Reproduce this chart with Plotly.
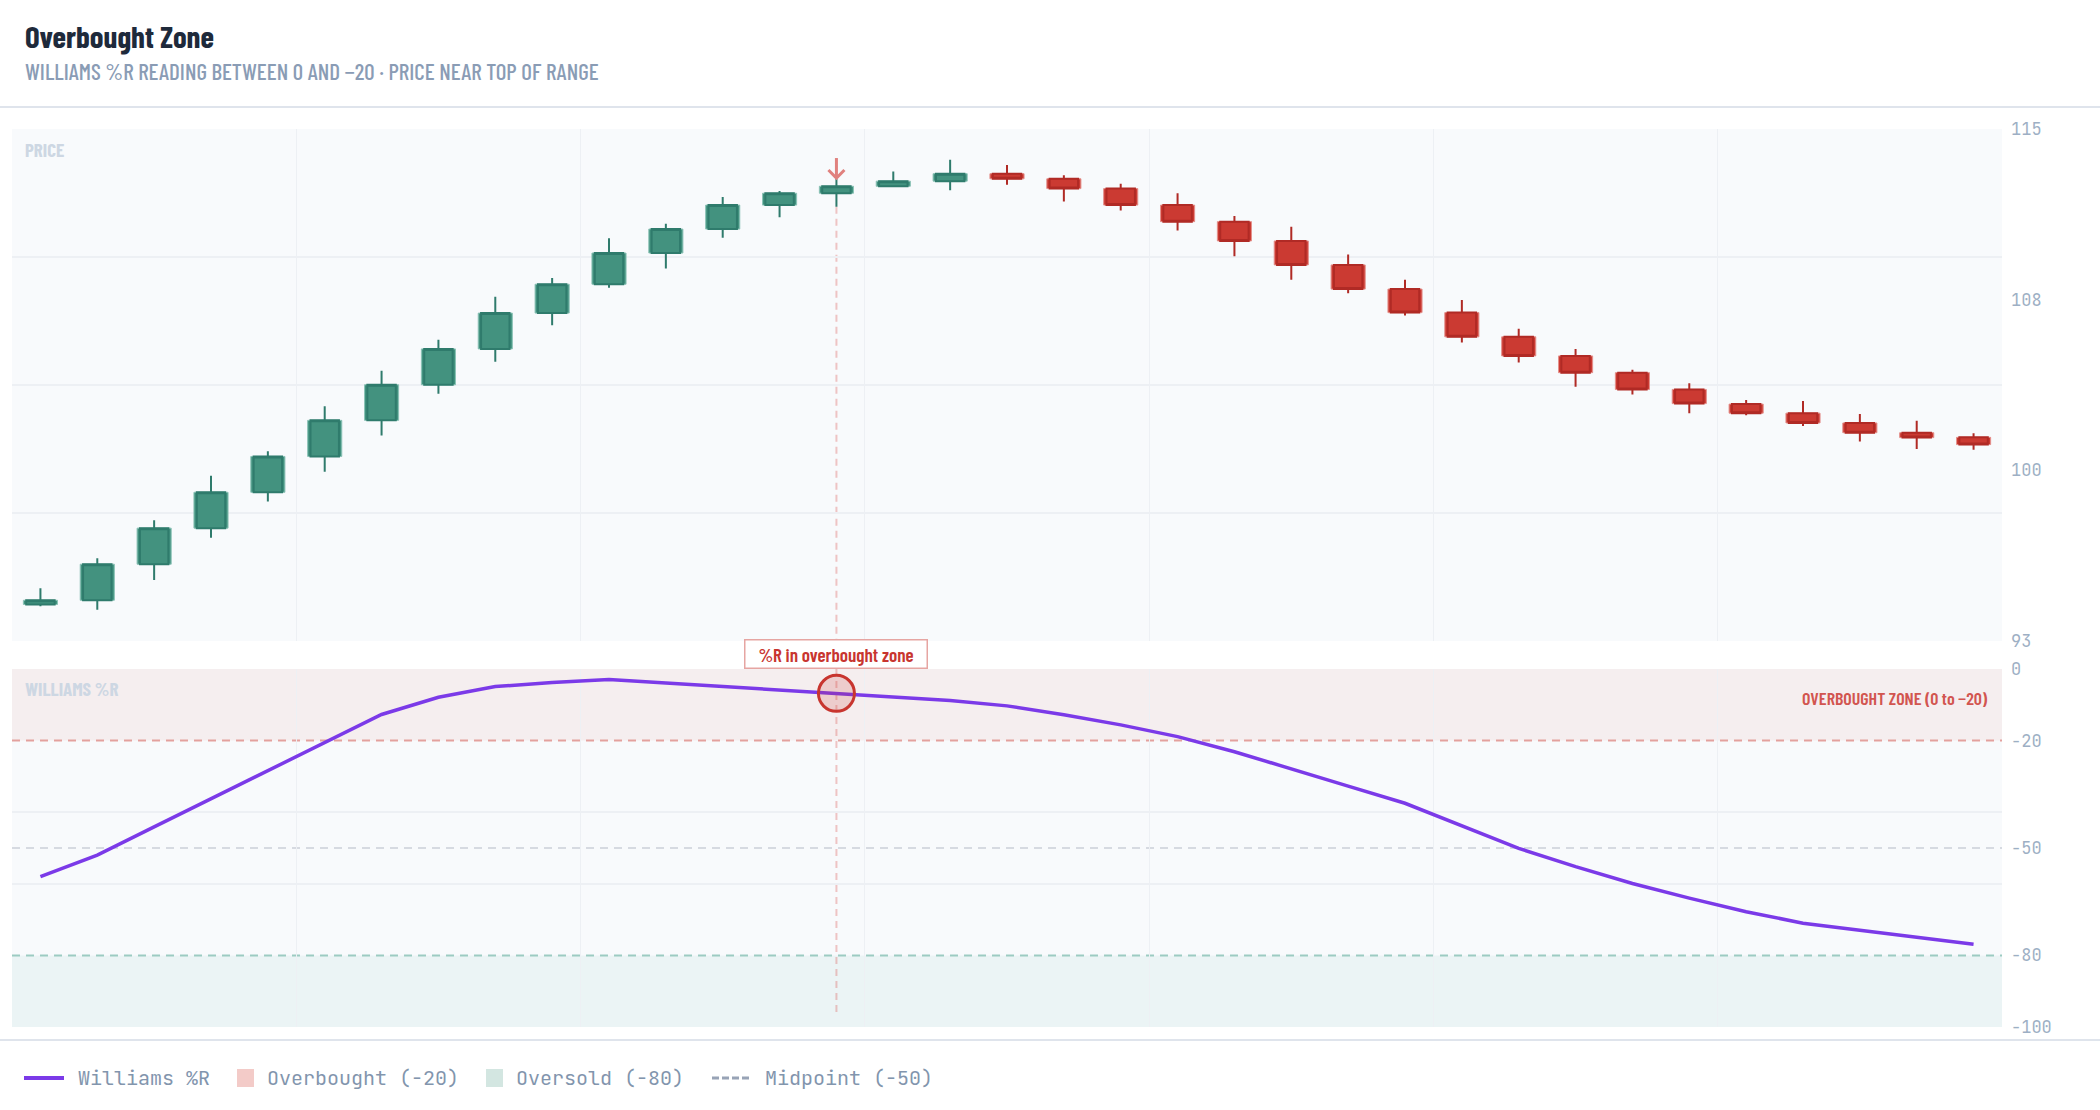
import plotly.graph_objects as go

# ---------------- data ----------------
days = list(range(35))
opens = [94.57, 94.75, 96.30, 97.85, 99.39, 100.93, 102.48, 104.01, 105.55, 107.09,
         108.33, 109.67, 110.70, 111.73, 112.24, 112.54, 112.76, 113.08, 112.86, 112.44,
         111.73, 111.02, 110.19, 109.16, 108.12, 107.11, 106.07, 105.25, 104.53, 103.81,
         103.18, 102.79, 102.37, 101.95, 101.75]
closes = [94.75, 96.30, 97.85, 99.39, 100.93, 102.48, 104.01, 105.55, 107.09, 108.33,
          109.67, 110.70, 111.73, 112.24, 112.54, 112.76, 113.08, 112.86, 112.44, 111.73,
          111.02, 110.19, 109.16, 108.12, 107.11, 106.07, 105.25, 104.53, 103.81, 103.20,
          102.79, 102.37, 101.95, 101.74, 101.44]
highs = [95.27, 96.56, 98.19, 100.10, 101.15, 103.09, 104.61, 105.94, 107.79, 108.60,
         110.31, 110.93, 112.08, 112.34, 112.85, 113.17, 113.68, 113.45, 113.01, 112.65,
         112.24, 111.26, 110.80, 109.61, 108.52, 107.65, 106.42, 105.55, 104.66, 104.08,
         103.36, 103.31, 102.75, 102.46, 101.93]
lows = [94.49, 94.34, 95.62, 97.44, 98.99, 100.27, 101.83, 103.62, 105.00, 106.57,
        108.18, 109.01, 110.33, 111.21, 111.66, 112.50, 112.37, 112.60, 111.89, 111.50,
        110.64, 109.53, 108.52, 107.94, 106.99, 105.83, 104.97, 103.92, 103.59, 102.79,
        102.70, 102.24, 101.57, 101.25, 101.22]
williams_r = [-58.0, -52.0, -44.1, -36.3, -28.4, -20.6, -12.7, -7.9, -4.9, -3.8,
              -2.9, -3.9, -4.9, -5.8, -6.8, -7.8, -8.8, -10.3, -12.8, -15.6,
              -18.9, -23.1, -28.0, -32.7, -37.5, -43.8, -50.1, -55.2, -59.9, -64.0,
              -67.8, -71.0, -73.0, -75.0, -76.9]

signal_idx = 14
price_range = [93, 115]
price_tickvals = [93, 100.333, 107.667, 115]
price_ticktext = ["93", "100", "108", "115"]
price_gridvals = [98.5, 104, 109.5]
wr_range = [-100, 0]
wr_tickvals = [0, -20, -50, -80, -100]
wr_ticktext = ["0", "-20", "-50", "-80", "-100"]
wr_gridvals = [-40, -60]
overbought_level = -20
oversold_level = -80
midpoint_level = -50
x_gridvals = [4.5, 9.5, 14.5, 19.5, 24.5, 29.5]
legend_labels = ["Williams %R", "Overbought (-20)", "Oversold (-80)", "Midpoint (-50)"]

# ---------------- style ----------------
NARROW = "Barlow Condensed, Roboto Condensed, DejaVu Sans Condensed, sans-serif"
MONO = "JetBrains Mono, DejaVu Sans Mono, monospace"
GRID = "#edf0f4"
TICK = "#9dafc4"
UP_FILL, UP_LINE, UP_EDGE = "#43927f", "#2f7b6c", "#8cc3b7"
DN_FILL, DN_LINE, DN_EDGE = "#cb3a32", "#b02a25", "#e4918c"
PURPLE = "#7b3ae8"
SIGNAL = "rgba(214,69,65,0.3)"
ARROW = "#e0817e"

W, H = 2100, 1110
ML, MR, MT, MB = 12, 98, 129, 83
PW, PH = W - ML - MR, H - MT - MB


def py(px_y):
    return (H - MB - px_y) / PH


def px(px_x):
    return (px_x - ML) / PW


fig = go.Figure()

# wicks via the library's candlestick
fig.add_trace(go.Candlestick(
    x=days, open=opens, high=highs, low=lows, close=closes,
    increasing=dict(fillcolor=UP_FILL, line=dict(color=UP_LINE, width=2)),
    decreasing=dict(fillcolor=DN_FILL, line=dict(color=DN_LINE, width=2)),
    whiskerwidth=0, showlegend=False, hoverinfo="skip",
    xaxis="x", yaxis="y",
))
# bodies with light edge
is_up = [c >= o for o, c in zip(opens, closes)]
fig.add_trace(go.Bar(
    x=days, base=[min(o, c) for o, c in zip(opens, closes)],
    y=[abs(c - o) for o, c in zip(opens, closes)], width=0.6,
    marker=dict(color=[UP_FILL if u else DN_FILL for u in is_up],
                line=dict(color=[UP_EDGE if u else DN_EDGE for u in is_up], width=1)),
    showlegend=False, hoverinfo="skip", xaxis="x", yaxis="y",
))

fig.add_trace(go.Scatter(
    x=days, y=williams_r, mode="lines", name="Williams %R",
    line=dict(color=PURPLE, width=3.5), xaxis="x2", yaxis="y2", showlegend=False,
))

fig.add_trace(go.Scatter(
    x=[days[signal_idx]], y=[williams_r[signal_idx]], mode="markers",
    marker=dict(size=36, color="rgba(205,50,45,0.18)", line=dict(color="#c8352f", width=3)),
    showlegend=False, xaxis="x2", yaxis="y2", hoverinfo="skip",
))

shapes = []
shapes.append(dict(type="rect", xref="x2 domain", yref="y2", x0=0, x1=1,
                   y0=overbought_level, y1=wr_range[1],
                   fillcolor="rgba(214,69,65,0.065)", line=dict(width=0), layer="below"))
shapes.append(dict(type="rect", xref="x2 domain", yref="y2", x0=0, x1=1,
                   y0=wr_range[0], y1=oversold_level,
                   fillcolor="rgba(42,157,143,0.06)", line=dict(width=0), layer="below"))
for lvl, col in [(overbought_level, "#e3a19e"), (midpoint_level, "#d6dae1"), (oversold_level, "#9ccbc2")]:
    shapes.append(dict(type="line", xref="x2 domain", yref="y2", x0=0, x1=1, y0=lvl, y1=lvl,
                       line=dict(color=col, width=2, dash="8px,6px"), layer="below"))
shapes.append(dict(type="line", xref="x", yref="y", x0=days[signal_idx], x1=days[signal_idx],
                   y0=lows[signal_idx], y1=price_range[0],
                   line=dict(color=SIGNAL, width=2, dash="7px,5px"), layer="below"))
shapes.append(dict(type="line", xref="x2", yref="y2", x0=days[signal_idx], x1=days[signal_idx],
                   y0=wr_range[1], y1=-96,
                   line=dict(color=SIGNAL, width=2, dash="7px,5px"), layer="below"))
# down arrow above the signal candle (pixel-sized, anchored at the candle high)
shapes.append(dict(type="line", xref="x", yref="y",
                   xsizemode="pixel", xanchor=days[signal_idx], x0=0, x1=0,
                   ysizemode="pixel", yanchor=highs[signal_idx], y0=1, y1=21,
                   line=dict(color=ARROW, width=3)))
shapes.append(dict(type="path", xref="x", yref="y",
                   xsizemode="pixel", xanchor=days[signal_idx],
                   ysizemode="pixel", yanchor=highs[signal_idx],
                   path="M -8,9 L 0,1 L 8,9",
                   line=dict(color=ARROW, width=3)))
for ysep in (107, 1040):
    shapes.append(dict(type="line", xref="paper", yref="paper", x0=px(0), x1=px(W),
                       y0=py(ysep), y1=py(ysep), line=dict(color="#dfe4ec", width=2)))

# custom legend
LEG_Y = 1078
LEG_FONT = dict(family=MONO, size=20, color="#8295ad")
leg_x = [24, 237, 486, 712]
shapes.append(dict(type="line", xref="paper", yref="paper", x0=px(leg_x[0]), x1=px(leg_x[0] + 40),
                   y0=py(LEG_Y), y1=py(LEG_Y), line=dict(color=PURPLE, width=4)))
shapes.append(dict(type="rect", xref="paper", yref="paper", x0=px(leg_x[1]), x1=px(leg_x[1] + 17),
                   y0=py(LEG_Y - 9), y1=py(LEG_Y + 9), fillcolor="#f3cbc8", line=dict(width=0)))
shapes.append(dict(type="rect", xref="paper", yref="paper", x0=px(leg_x[2]), x1=px(leg_x[2] + 17),
                   y0=py(LEG_Y - 9), y1=py(LEG_Y + 9), fillcolor="#d3e6e1", line=dict(width=0)))
shapes.append(dict(type="line", xref="paper", yref="paper", x0=px(leg_x[3]), x1=px(leg_x[3] + 40),
                   y0=py(LEG_Y), y1=py(LEG_Y), line=dict(color="#98a3b6", width=3, dash="7px,3px")))
text_x = [leg_x[0] + 52, leg_x[1] + 28, leg_x[2] + 28, leg_x[3] + 51]

annotations = [
    dict(text="Overbought Zone", xref="paper", yref="paper", x=px(23), y=py(36),
         xanchor="left", yanchor="middle", showarrow=False,
         font=dict(family=NARROW, size=31, color="#1e2a3b", weight=700)),
    dict(text="WILLIAMS %R READING BETWEEN 0 AND \u221220 \u00b7 PRICE NEAR TOP OF RANGE",
         xref="paper", yref="paper", x=px(23), y=py(71), xanchor="left", yanchor="middle",
         showarrow=False, font=dict(family=NARROW, size=23, color="#8a9cb5", weight=500)),
    dict(text="PRICE", xref="x domain", yref="y domain", x=0, y=1, xshift=11, yshift=-20,
         xanchor="left", yanchor="middle", showarrow=False,
         font=dict(family=NARROW, size=19, color="#cdd7e3", weight=700)),
    dict(text="WILLIAMS %R", xref="x2 domain", yref="y2 domain", x=0, y=1, xshift=11, yshift=-19,
         xanchor="left", yanchor="middle", showarrow=False,
         font=dict(family=NARROW, size=19, color="#cdd7e3", weight=700)),
    dict(text="OVERBOUGHT ZONE (0 to \u221220)", xref="x2 domain", yref="y2", x=1, y=-8,
         xshift=-12, xanchor="right", yanchor="middle", showarrow=False,
         font=dict(family=NARROW, size=18, color="#d2554f", weight=600)),
    dict(text="%R in overbought zone", xref="x2", yref="y2 domain", x=days[signal_idx], y=1,
         xanchor="center", yanchor="bottom", showarrow=False, width=181, height=27,
         borderpad=0, bordercolor="#e6a5a2", borderwidth=1.5, bgcolor="white",
         font=dict(family=NARROW, size=19, color="#c8352f", weight=600)),
]
for lbl, tx in zip(legend_labels, text_x):
    annotations.append(dict(text=lbl, xref="paper", yref="paper", x=px(tx), y=py(LEG_Y),
                            xanchor="left", yanchor="middle", showarrow=False, font=LEG_FONT))

axis_common = dict(showline=False, zeroline=False, ticks="")
fig.update_layout(
    width=W, height=H,
    margin=dict(l=ML, r=MR, t=MT, b=MB),
    paper_bgcolor="white", plot_bgcolor="#f8fafc",
    boxgap=0.5, boxgroupgap=0, barmode="overlay",
    hovermode=False, showlegend=False,
    shapes=shapes, annotations=annotations,
    xaxis=dict(domain=[0, 1], anchor="y", range=[-0.5, 34.5], tickvals=x_gridvals,
               showticklabels=False, showgrid=True, gridcolor=GRID, gridwidth=1,
               rangeslider=dict(visible=False), **axis_common),
    xaxis2=dict(domain=[0, 1], anchor="y2", matches="x", range=[-0.5, 34.5], tickvals=x_gridvals,
                showticklabels=False, showgrid=True, gridcolor=GRID, gridwidth=1, **axis_common),
    yaxis=dict(domain=[py(641), 1], anchor="x", range=price_range, side="right",
               tickvals=price_tickvals, ticktext=price_ticktext, showgrid=False,
               minor=dict(tickvals=price_gridvals, showgrid=True, gridcolor=GRID, gridwidth=2, ticks=""),
               ticklabelstandoff=8, tickfont=dict(family=MONO, size=17, color=TICK), **axis_common),
    yaxis2=dict(domain=[0, py(669)], anchor="x2", range=wr_range, side="right",
                tickvals=wr_tickvals, ticktext=wr_ticktext, showgrid=False,
                minor=dict(tickvals=wr_gridvals, showgrid=True, gridcolor=GRID, gridwidth=2, ticks=""),
                ticklabelstandoff=8, tickfont=dict(family=MONO, size=17, color=TICK), **axis_common),
)

fig.write_html("out.html")
